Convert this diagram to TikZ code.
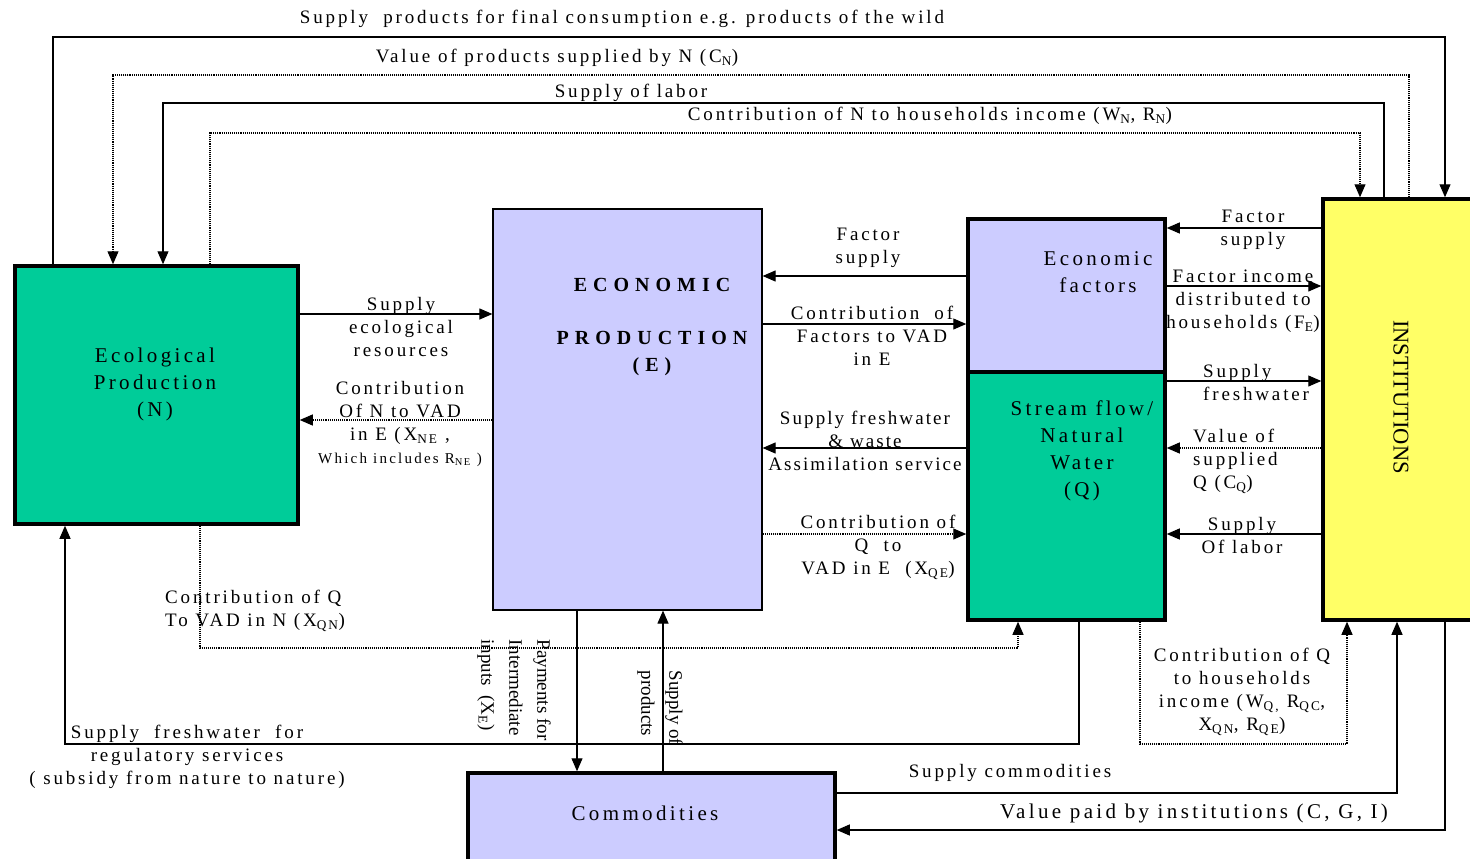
\documentclass[tikz,border=0pt]{standalone}
\usepackage{fontspec}
\setmainfont{Liberation Serif}
\newfontfamily\lsp[LetterSpace=15]{Liberation Serif}
\newfontfamily\lspn[LetterSpace=11]{Liberation Serif}
\newfontfamily\lspm[LetterSpace=16]{Liberation Serif}
\newfontfamily\lspb[LetterSpace=30]{Liberation Serif}
\usetikzlibrary{arrows.meta}
\definecolor{ngreen}{HTML}{00CC99}
\definecolor{lav}{HTML}{CCCCFF}
\definecolor{yel}{HTML}{FFFF66}
\begin{document}
\begin{tikzpicture}[x=1pt,y=-1pt,
  thickbox/.style={draw, line width=3.5pt, inner sep=0pt},
  thinbox/.style={draw, line width=1.2pt, inner sep=0pt},
  conn/.style={line width=1.1pt, -{Triangle[length=13pt,width=11pt]}},
  dconn/.style={conn, densely dotted},
  lab/.style={font=\lsp\fontsize{19}{23}\selectfont, align=center, inner sep=0pt},
  plab/.style={font=\fontsize{19}{28}\selectfont, align=left, inner sep=0pt, rotate=-90},
  blab/.style={font=\lspm\fontsize{21}{27}\selectfont, align=center, inner sep=0pt},
  eblab/.style={font=\lspb\bfseries\fontsize{20}{27}\selectfont, align=center, inner sep=0pt}
]
\clip (0,0) rectangle (1470,859);
\fill[white] (0,0) rectangle (1470,859);
% boxes
\node[thickbox, fill=ngreen, minimum width=283, minimum height=258] (N) at (156.5,395) {};
\node[thinbox, fill=lav, minimum width=269, minimum height=401] (E) at (627.5,409.5) {};
\node[thickbox, fill=lav, minimum width=197, minimum height=153] (F) at (1066.5,295.5) {};
\node[thickbox, fill=ngreen, minimum width=197, minimum height=248] (Q) at (1066.5,496) {};
\node[thickbox, fill=yel, minimum width=177, minimum height=421] (I) at (1411.5,409.5) {};
\node[thickbox, fill=lav, minimum width=367, minimum height=107] (C) at (651.5,826.5) {};
% box labels
\node[blab] (nl) at (155,384) {Ecological\\Production\\(N)};
\node[eblab] (el) at (652,327) {ECONOMIC\\[26pt]PRODUCTION\\(E)};
\node[blab] (fl) at (1098,272) {Economic\\factors};
\node[blab] (ql) at (1082,451) {Stream flow/\\Natural\\Water\\(Q)};
\node[blab] (cl) at (645,813) {Commodities};
\node[font=\fontsize{22.5}{25}\selectfont, rotate=-90, inner sep=0pt] (il) at (1401,397) {INSTITUTIONS};
% top connectors
\draw[conn] (N.north -| 53,0) |- (1445,37) -- (I.north -| 1445,0);
\draw[dconn] (I.north -| 1409,0) |- (113,75) -- (N.north -| 113,0);
\draw[conn] (I.north -| 1384,0) |- (163,103) -- (N.north -| 163,0);
\draw[dconn] (N.north -| 210,0) |- (1360,133) -- (I.north -| 1360,0);
% middle connectors
\draw[conn] (N.east |- 0,314) -- (E.west |- 0,314);
\draw[dconn] (E.west |- 0,420) -- (N.east |- 0,420);
\draw[conn] (F.west |- 0,276) -- (E.east |- 0,276);
\draw[conn] (E.east |- 0,324) -- (F.west |- 0,324);
\draw[conn] (Q.west |- 0,448) -- (E.east |- 0,448);
\draw[dconn] (E.east |- 0,534) -- (Q.west |- 0,534);
\draw[conn] (I.west |- 0,228) -- (F.east |- 0,228);
\draw[conn] (F.east |- 0,286) -- (I.west |- 0,286);
\draw[conn] (Q.east |- 0,381) -- (I.west |- 0,381);
\draw[dconn] (I.west |- 0,448) -- (Q.east |- 0,448);
\draw[conn] (I.west |- 0,534) -- (Q.east |- 0,534);
% bottom connectors
\draw[dconn] (N.south -| 200,0) |- (1018,648) -- (Q.south -| 1018,0);
\draw[conn] (Q.south -| 1079,0) |- (65,744) -- (N.south -| 65,0);
\draw[conn] (E.south -| 577,0) -- (C.north -| 577,0);
\draw[conn] (C.north -| 663,0) -- (E.south -| 663,0);
\draw[dconn] (Q.south -| 1140,0) |- (1347,744) -- (I.south -| 1347,0);
\draw[conn] (C.east |- 0,793) -| (I.south -| 1397,0);
\draw[conn] (I.south -| 1445,0) |- (C.east |- 0,830);
% top labels
\node[lab] (t1) at (622,19) {Supply~ products for final consumption e.g. products of the wild};
\node[lab] (t2) at (557,58) {Value of products supplied by N (C\textsubscript{N})};
\node[lab] (t3) at (631,93) {Supply of labor};
\node[lab] (t4) at (930,116) {Contribution of N to households income (W\textsubscript{N}, R\textsubscript{N})};
% middle labels
\node[lab] (l1) at (401,327) {Supply\\ecological\\resources};
\node[lab] (l2) at (400,424) {Contribution\\Of N to VAD\\in E (X\textsubscript{NE} ,\\{\fontsize{15}{23}\selectfont Which includes R\textsubscript{NE} )}};
\node[lab] (l3) at (868,248) {Factor\\supply};
\node[lab] (l4) at (872,336) {Contribution~ of\\Factors to VAD\\in E};
\node[lab, font=\lspn\fontsize{19}{23}\selectfont] (l5) at (865,441) {Supply freshwater\\\& waste\\Assimilation service};
\node[lab] (l6) at (878,547) {Contribution of\\Q~ to\\VAD in E~ (X\textsubscript{QE})};
\node[lab] (r1) at (1253,230) {Factor\\supply};
\node[lab] (r2) at (1243,301) {Factor income\\distributed to\\households (F\textsubscript{E})};
\node[lab, align=left, anchor=west] (r3) at (1203,382) {Supply\\freshwater};
\node[lab, align=left, anchor=west] (r4) at (1193,461) {Value of\\supplied\\Q (C\textsubscript{Q})};
\node[lab] (r5) at (1242,535) {Supply\\Of labor};
% bottom labels
\node[lab, align=left, anchor=west] (b1) at (165,611) {Contribution of Q\\To VAD in N (X\textsubscript{QN})};
\node[lab] (b2) at (187,757) {Supply~ freshwater~ for\\regulatory services\\( subsidy from nature to nature)};
\node[plab] (b3) at (514,690) {Payments for\\Intermediate\\inputs~ (X\textsubscript{E})};
\node[plab] (b4) at (660,708) {Supply of\\products};
\node[lab] (b5) at (1242,692) {Contribution of Q\\to households\\income (W\textsubscript{Q,} R\textsubscript{QC},\\X\textsubscript{QN}, R\textsubscript{QE})};
\node[lab] (b6) at (1010,773) {Supply commodities};
\node[blab] (b7) at (1194,813) {Value paid by institutions (C, G, I)};
\end{tikzpicture}
\end{document}
